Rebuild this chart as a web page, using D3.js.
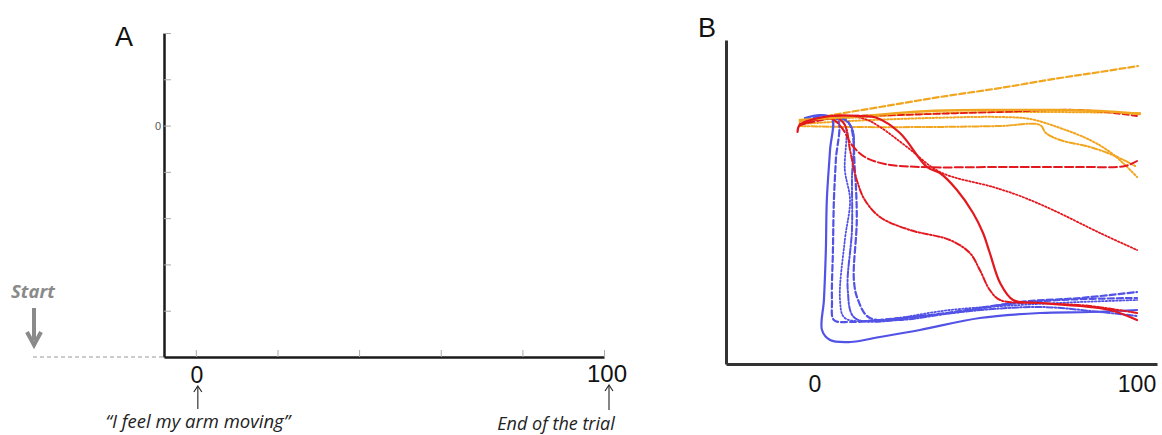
<!DOCTYPE html>
<html><head><meta charset="utf-8">
<script src="https://cdn.jsdelivr.net/npm/d3@7"></script>
<style>
html,body{margin:0;padding:0;background:#fff;}
svg{display:block;}
text{font-family:"Liberation Sans",Arial,sans-serif;}
</style></head>
<body>
<svg id="chart" width="1162" height="435"></svg>
<script>
// ---------- Panel A data ----------
const aXTicks = [0, 20, 40, 60, 80, 100];
const aYTicks = [-5, -4, -3, -2, -1, 0, 1, 2];
const aXLabels = ["0", "100"];
const aNotes = ["\u201cI feel my arm moving\u201d", "End of the trial"];

// ---------- Panel B data: trajectories [x (% of trial), y (position)] ----------
const bXLabels = ["0", "100"];
const orangeDashed = [[-4.7,1],[5.6,4.5],[20.2,8.5],[38.8,13.5],[57.5,18],[76.1,23],[88.5,26],[100.3,29]];
const orangeSolid = [[-4.7,2],[10.9,3.5],[35.7,6.5],[57.5,7],[76.1,7],[88.5,6.5],[100.9,5]];
const orangeDotted1 = [[-4.7,1.5],[26.4,4.5],[57.5,6],[100.9,5.5]];
const orangeDotted2 = [[-4.7,0],[10.9,1.5],[35.7,3],[57.5,3.5],[66.8,2.5],[76.1,-2],[85.4,-8],[91.6,-14],[96.3,-20.5],[100,-26.5]];
const orangeDashDot = [[-4.7,-1],[10.9,-1.5],[35.7,-1.5],[57.5,-1],[69.9,-0.5],[71.7,-4.5],[76.1,-8],[85.4,-11.5],[93.2,-16],[99.4,-21]];

const redDashed = [[-4.7,-0.5],[7.8,3.5],[26.4,4.5],[57.5,6],[82.3,7],[100,4]];
const redLongDash = [[-4.7,-0.5],[4.7,3],[8.4,-2],[11.5,-10.5],[15.5,-16.5],[21.7,-20],[32.6,-21.5],[57.5,-21.5],[82.3,-21.5],[96.3,-21],[100,-18.5]];
const redSolid = [[-5.4,-4],[-4.7,-0.5],[4.7,4],[14,4],[19.3,3],[26.4,-4.5],[34.8,-21.5],[38.8,-24.5],[44.1,-33],[49.1,-44.5],[52.2,-54.5],[54.3,-64.5],[57.5,-79.5],[61.5,-88],[69.9,-89.5],[82.3,-91],[91.6,-93],[100,-98]];
const redDotted = [[-4.7,0],[7.8,4],[15.5,2.5],[20.2,-1.5],[28.6,-11.5],[38.8,-24],[55.3,-31.5],[63.7,-36],[73.9,-43],[88.5,-54.5],[100,-63]];
const redDashDot = [[-4.7,-0.5],[6.2,3.5],[9.3,-0.5],[10.9,-13],[13,-28],[15.5,-38],[20.2,-46.5],[29.5,-53],[41.9,-58],[48.1,-64.5],[51.2,-73],[54.3,-83],[57.5,-88],[69.9,-89.5],[85.4,-91],[100,-94.5]];

const blueSolid = [[-3.1,3],[1.6,4.5],[5.3,3],[4.7,-13],[3.7,-38],[3.4,-63],[2.8,-88],[2.2,-103],[4.7,-108],[10.9,-109],[20.2,-106.5],[32.6,-103],[51.2,-97],[69.9,-94.5],[85.4,-94],[100,-93]];
const blueDashed1 = [[-3.1,2],[3.1,4],[7.1,2],[6.5,-18],[5.9,-38],[5.6,-63],[5.3,-88],[5.9,-98],[10.9,-99],[26.4,-97],[45,-94],[63.7,-89],[82.3,-87],[100,-84]];
const blueDotted = [[-3.1,1.5],[6.2,3],[9.3,-0.5],[9.3,-23],[10.9,-38],[9.3,-58],[7.8,-88],[9.3,-97],[20.2,-98],[41.9,-93],[63.7,-90.5],[82.3,-89],[100,-88]];
const blueDashDot = [[-3.1,1],[7.8,3],[11.5,-2],[11.5,-28],[11.5,-53],[10.2,-83],[12.4,-97],[26.4,-98],[45,-94],[69.9,-91.5],[88.5,-94],[100,-96]];
const blueDashed2 = [[-3.1,2],[7.8,3.5],[10.9,-0.5],[12.4,-23],[13,-48],[12.1,-78],[13.4,-88],[17.1,-97],[35.7,-95.5],[57.5,-90.5],[76.1,-88],[100,-87]];

const ORANGE = "#F2A51E", RED = "#E3181F", BLUE = "#5252E6";
const DASH = "6,3", DOT = "1.5,2", DASHDOT = "6,2,1.5,2", LONG = "8,3";

const series = [
  {d: orangeDashed, c: ORANGE, dash: DASH, w: 2.2},
  {d: orangeDotted1, c: ORANGE, dash: DOT, w: 2},
  {d: orangeDotted2, c: ORANGE, dash: DOT, w: 2},
  {d: orangeDashDot, c: ORANGE, dash: DASHDOT, w: 2},
  {d: blueDotted, c: BLUE, dash: DOT, w: 1.8},
  {d: blueDashDot, c: BLUE, dash: DASHDOT, w: 2},
  {d: blueDashed2, c: BLUE, dash: DASH, w: 2.2},
  {d: blueDashed1, c: BLUE, dash: DASH, w: 2.2},
  {d: blueSolid, c: BLUE, dash: null, w: 2.2},
  {d: redDotted, c: RED, dash: DOT, w: 1.8},
  {d: redLongDash, c: RED, dash: LONG, w: 2},
  {d: redDashDot, c: RED, dash: DASHDOT, w: 2},
  {d: redDashed, c: RED, dash: DASH, w: 1.8},
  {d: orangeSolid, c: ORANGE, dash: null, w: 2.4},
  {d: redSolid, c: RED, dash: null, w: 2.2}
];

const svg = d3.select("#chart");
svg.append("rect").attr("width",1162).attr("height",435).attr("fill","#fff");

// ================= Panel A =================
const xA = d3.scaleLinear().domain([-7.8, 100]).range([164, 604]);
const yA = d3.scaleLinear().domain([-5, 2]).range([357, 33]);

const gAy = svg.append("g").attr("transform", `translate(${xA(-7.8)},0)`)
  .call(d3.axisLeft(yA).tickValues(aYTicks).tickSizeInner(-7).tickSizeOuter(0).tickPadding(3)
    .tickFormat(d => d === 0 ? "0" : ""));
gAy.select(".domain").attr("stroke","#1a1a1a").attr("stroke-width",2.5);
gAy.selectAll(".tick line").attr("stroke","#aaa").attr("stroke-width",1);
gAy.selectAll(".tick text").attr("fill","#555").style("font-size","11px");

const gAx = svg.append("g").attr("transform", `translate(0,${yA(-5)})`)
  .call(d3.axisBottom(xA).tickValues(aXTicks).tickSizeInner(-7).tickSizeOuter(0).tickFormat(""));
gAx.select(".domain").attr("stroke","#1a1a1a").attr("stroke-width",2.5);
gAx.selectAll(".tick line").attr("stroke","#aaa").attr("stroke-width",1);

// x labels
svg.append("text").attr("x", xA(0)+1).attr("y", 383).attr("text-anchor","middle")
  .style("font-size","23px").attr("fill","#111").text(aXLabels[0]);
svg.append("text").attr("x", xA(100)+3).attr("y", 382).attr("text-anchor","middle")
  .style("font-size","24px").attr("fill","#111").text(aXLabels[1]);

// little arrows
function upArrow(x, y1, y2) {
  svg.append("line").attr("x1",x).attr("x2",x).attr("y1",y2).attr("y2",y1+1)
    .attr("stroke","#222").attr("stroke-width",1.1);
  svg.append("path").attr("d",`M${x-4},${y1+6}L${x},${y1}L${x+4},${y1+6}`)
    .attr("fill","none").attr("stroke","#222").attr("stroke-width",1.1);
}
upArrow(xA(0)+2, 386, 409);
upArrow(xA(100)+5, 385, 410);

svg.append("text").attr("x", xA(0)+2).attr("y", 428).attr("text-anchor","middle")
  .style("font-family","'Open Sans',sans-serif").style("font-style","italic").style("font-size","18.5px")
  .attr("fill","#222").text(aNotes[0]);
svg.append("text").attr("x", 556).attr("y", 430).attr("text-anchor","middle")
  .style("font-family","'Open Sans',sans-serif").style("font-style","italic").style("font-size","18px")
  .attr("fill","#222").text(aNotes[1]);

// Start marker
svg.append("text").attr("x", 11).attr("y", 298)
  .style("font-family","'Open Sans',sans-serif").style("font-style","italic").style("font-weight","bold")
  .style("font-size","18.5px").attr("fill","#8a8a8a").text("Start");
svg.append("line").attr("x1",34).attr("x2",34).attr("y1",308).attr("y2",340)
  .attr("stroke","#8a8a8a").attr("stroke-width",4);
svg.append("path").attr("d","M27,332L34,345L41,332").attr("fill","none")
  .attr("stroke","#8a8a8a").attr("stroke-width",4).attr("stroke-linejoin","miter");
svg.append("line").attr("x1",33).attr("x2",xA(-7.8)).attr("y1",yA(-5)).attr("y2",yA(-5))
  .attr("stroke","#999").attr("stroke-width",1).attr("stroke-dasharray","4,3");

svg.append("text").attr("x",124).attr("y",46).attr("text-anchor","middle")
  .style("font-size","27px").attr("fill","#111").text("A");

// ================= Panel B =================
const xB = d3.scaleLinear().domain([-27.6, 106.2]).range([726, 1157]);
const yB = d3.scaleLinear().domain([-120, 42]).range([364, 40]);

const gBy = svg.append("g").attr("transform", `translate(${xB(-27.6)},0)`)
  .call(d3.axisLeft(yB).tickValues([]).tickSizeOuter(0));
gBy.select(".domain").attr("stroke","#333").attr("stroke-width",3);
const gBx = svg.append("g").attr("transform", `translate(0,${yB(-120)})`)
  .call(d3.axisBottom(xB).tickValues([]).tickSizeOuter(0));
gBx.select(".domain").attr("stroke","#333").attr("stroke-width",3);

svg.append("text").attr("x", xB(0)).attr("y", 392).attr("text-anchor","middle")
  .style("font-size","23px").attr("fill","#111").text(bXLabels[0]);
svg.append("text").attr("x", xB(100)).attr("y", 392).attr("text-anchor","middle")
  .style("font-size","23px").attr("fill","#111").text(bXLabels[1]);

svg.append("text").attr("x",707).attr("y",37).attr("text-anchor","middle")
  .style("font-size","27px").attr("fill","#111").text("B");

const line = d3.line().x(d => xB(d[0])).y(d => yB(d[1])).curve(d3.curveCatmullRom.alpha(0.5));
svg.append("g").selectAll("path").data(series).join("path")
  .attr("d", s => line(s.d))
  .attr("fill","none")
  .attr("stroke", s => s.c)
  .attr("stroke-width", s => s.w)
  .attr("stroke-dasharray", s => s.dash)
  .attr("stroke-linecap","round")
  .attr("stroke-linejoin","round");
</script>
</body></html>
